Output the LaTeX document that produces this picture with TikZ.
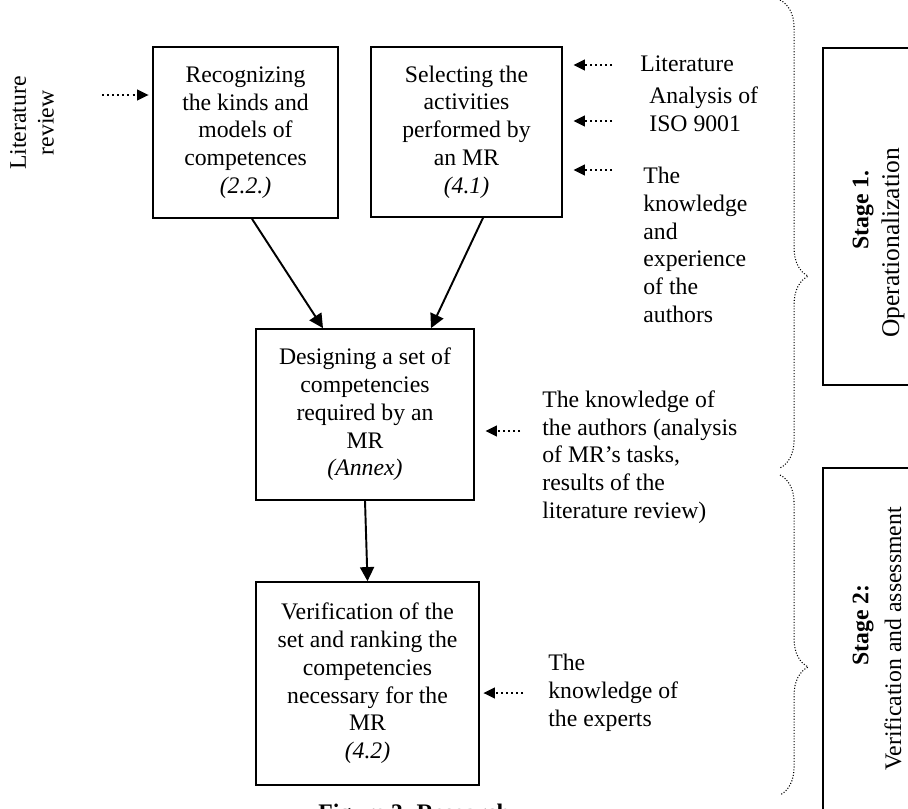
\documentclass[tikz,border=0pt]{standalone}
\usepackage{fontspec}
\setmainfont{Liberation Serif}
\usetikzlibrary{arrows.meta,positioning,calc,decorations.pathreplacing}

\newcommand{\bodysize}{\fontsize{13.5}{15.8}\selectfont}

\begin{document}
\begin{tikzpicture}[x=0.02cm,y=-0.02cm,
    font=\bodysize,
    box/.style={draw,line width=1pt,align=center,inner sep=0pt},
    flow/.style={line width=1.1pt,-{Triangle[length=8pt,width=8pt]}},
    src/.style={line width=1.1pt,dash pattern=on 1.1pt off 1.8pt,-{Triangle[length=6.5pt,width=6pt]}},
    txt/.style={align=left,anchor=west,inner sep=0pt},
    stagebox/.style={draw,line width=1pt},
    brc/.style={densely dotted,line width=0.6pt,decorate,
        decoration={brace,amplitude=16pt,aspect=#1}}]
    \useasboundingbox (0,0) rectangle (908,808);
    \clip (0,0) rectangle (908,808);

    % Main boxes
    \node[box,minimum width=3.7cm,minimum height=3.42cm] (recog) at (245.5,132.5)
        {Recognizing\\the kinds and\\models of\\competences\\\textit{(2.2.)}};
    \node[box,minimum width=3.82cm,minimum height=3.4cm] (sel) at (466.5,132)
        {Selecting the\\activities\\performed by\\an MR\\\textit{(4.1)}};
    \node[box,minimum width=4.36cm,minimum height=3.42cm] (design) at (365,414.5)
        {Designing a set of\\competencies\\required by an\\MR\\\textit{(Annex)}};
    \node[box,minimum width=4.46cm,minimum height=4.06cm] (verif) at (367.5,683.5)
        {Verification of the\\set and ranking the\\competencies\\necessary for the\\MR\\\textit{(4.2)}};

    % Flow
    \draw[flow] ($(recog.south)+(6.5,0)$) -- ($(design.north)+(-42,0)$);
    \draw[flow] ($(sel.south)+(16.5,0)$) -- ($(design.north)+(66,0)$);
    \draw[flow] (design.south) -- (verif.north);

    % Inputs
    \node[rotate=90,align=center] (litrev) at (32,123) {Literature\\review};
    \coordinate (lr) at (102,95);
    \draw[src] (lr) -- ([xshift=-2pt]recog.west |- lr);

    \node[txt] (lit) at (640,64) {Literature};
    \node[txt] (iso) at (649,109) {Analysis of\\ISO 9001};
    \node[txt] (exp) at (643,245) {The\\knowledge\\and\\experience\\of the\\authors};
    \foreach \yy/\nm in {65/ta,121/tb,170/tc} {
        \coordinate (\nm) at (612,\yy);
        \draw[src] (\nm) -- ([xshift=6pt]sel.east |- \nm);
    }

    \node[txt] (auth) at (542,457) {The knowledge of\\the authors (analysis\\of MR’s tasks,\\results of the\\literature review)};
    \coordinate (td) at (520,431);
    \draw[src] (td) -- ([xshift=6pt]design.east |- td);

    \node[txt] (expert) at (548,693) {The\\knowledge of\\the experts};
    \coordinate (tv) at (523,693);
    \draw[src] (tv) -- ([xshift=2pt]verif.east |- tv);

    % Stages
    \draw[brc=0.59] (780,0) -- (780,468);
    \draw[brc=0.6] (780,475) -- (780,795);
    \draw[stagebox] (823,48) rectangle (940,385);
    \draw[stagebox] (823,468) rectangle (940,830);
    \node[rotate=90,font=\bodysize\bfseries] (sa) at (863,210) {Stage 1.};
    \node[rotate=90,font=\fontsize{14.5}{17}\selectfont] (sb) at (893,243) {Operationalization};
    \node[rotate=90,font=\bodysize\bfseries] (sc) at (863,625) {Stage 2:};
    \node[rotate=90] (sd) at (893,639) {Verification and assessment};

    % Caption
    \node[anchor=north west,inner sep=0pt,font=\bodysize\bfseries] (cap) at (318,804) {Figure 3. Research};
\end{tikzpicture}
\end{document}
